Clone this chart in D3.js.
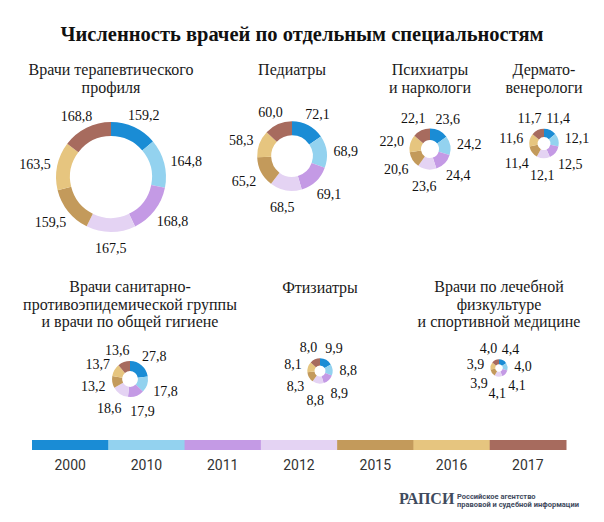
<!DOCTYPE html>
<html><head><meta charset="utf-8">
<script src="https://cdn.jsdelivr.net/npm/d3@7"></script>
<style>
html,body{margin:0;padding:0;background:#fff;}
svg{display:block;}
</style></head>
<body>
<svg id="chart" width="604" height="522"></svg>
<script>
// ---------- data ----------
const years = ["2000","2010","2011","2012","2015","2016","2017"];
const titleText = "Численность врачей по отдельным специальностям";
const specialtyNames = [
  ["Врачи терапевтического","профиля"],
  ["Педиатры"],
  ["Психиатры","и наркологи"],
  ["Дермато-","венерологи"],
  ["Врачи санитарно-","противоэпидемической группы","и врачи по общей гигиене"],
  ["Фтизиатры"],
  ["Врачи по лечебной","физкультуре","и спортивной медицине"]
];
const therapists     = [159.2,164.8,168.8,167.5,159.5,163.5,168.8];
const pediatricians  = [72.1,68.9,69.1,68.5,65.2,58.3,60.0];
const psychiatrists  = [23.6,24.2,24.4,23.6,20.6,22.0,22.1];
const dermatologists = [11.4,12.1,12.5,12.1,11.4,11.6,11.7];
const sanitary       = [27.8,17.8,17.9,18.6,13.2,13.7,13.6];
const phthisiatrists = [9.9,8.8,8.9,8.8,8.3,8.1,8.0];
const physiotherapy  = [4.4,4.0,4.1,4.1,3.9,3.9,4.0];
const seriesList = [therapists,pediatricians,psychiatrists,dermatologists,sanitary,phthisiatrists,physiotherapy];

// ---------- layout / style ----------
const colors = ["#1a8cd5","#93d2ef","#c49ae5","#e4d3f3","#c39a5b","#e6c57f","#a76b5e"];
const layout = [
  {cx:111, cy:177, ty:75},
  {cx:292, cy:156, ty:75},
  {cx:430, cy:149, ty:75},
  {cx:544, cy:143.5, ty:75},
  {cx:130, cy:379, ty:292},
  {cx:320, cy:371, ty:293},
  {cx:499, cy:368, ty:292}
];

const svg = d3.select("#chart");
const serif = "'Liberation Serif','DejaVu Serif',serif";
const sans = "Roboto,'Open Sans','Liberation Sans',sans-serif";

svg.append("text")
  .attr("x", 302).attr("y", 41)
  .attr("text-anchor","middle")
  .style("font-family", serif).style("font-weight","bold").style("font-size","20.5px")
  .style("fill","#111")
  .text(titleText);

const maxTotal = d3.sum(therapists);
const rScale = d3.scaleSqrt().domain([0, maxTotal]).range([0, 55]);
const fmt = v => d3.format(".1f")(v).replace(".", ",");

seriesList.forEach((vals, i) => {
  const L = layout[i];
  const g = svg.append("g").attr("transform", `translate(${L.cx},${L.cy})`);
  const R = rScale(d3.sum(vals));
  const inner = R - Math.min(14, 0.56*R);
  const arc = d3.arc().innerRadius(inner).outerRadius(R);
  const pieData = d3.pie().sort(null).startAngle(0).endAngle(2*Math.PI)
    .value(d=>d.v)(vals.map((v,k)=>({v,k})));
  g.selectAll("path").data(pieData).join("path")
    .attr("d", arc)
    .attr("fill", d => colors[d.data.k]);

  // labels
  const pad = 7;
  pieData.forEach(d => {
    const th = (d.startAngle + d.endAngle)/2;
    const t = g.append("text")
      .attr("text-anchor","middle")
      .attr("dominant-baseline","central")
      .style("font-family", serif).style("font-size","14px").style("fill","#111")
      .text(fmt(d.data.v));
    const bb = t.node().getBBox();
    const s = Math.sin(th), c = -Math.cos(th);
    const x = (R + pad)*s + (bb.width/2)*s;
    const y = (R + pad)*c + 8*c + 2;
    t.attr("x", x).attr("y", y);
  });

  // titles
  const tt = svg.append("text")
    .attr("text-anchor","middle")
    .style("font-family", serif).style("font-size","16px").style("fill","#1a1a1a");
  specialtyNames[i].forEach((line, j) => {
    tt.append("tspan").attr("x", L.cx).attr("y", L.ty + j*17.5).text(line);
  });
});

// legend
const lx = d3.scaleBand().domain(years).range([32, 566]).paddingInner(0).paddingOuter(0);
const lg = svg.append("g");
lg.selectAll("rect").data(years).join("rect")
  .attr("x", d => lx(d)).attr("y", 440)
  .attr("width", lx.bandwidth()+0.5).attr("height", 10)
  .attr("fill", (d,i) => colors[i]);
lg.selectAll("text").data(years).join("text")
  .attr("x", d => lx(d) + lx.bandwidth()/2).attr("y", 470)
  .attr("text-anchor","middle")
  .style("font-family", sans).style("font-size","14px").style("fill","#333")
  .text(d => d);

// logo
svg.append("text").attr("x", 399).attr("y", 504)
  .style("font-family", serif).style("font-weight","bold").style("font-size","16px")
  .style("fill","#3f4b5e").text("РАПСИ");
svg.append("text").attr("x", 457).attr("y", 499)
  .style("font-family", sans).style("font-weight","bold").style("font-size","7.5px")
  .style("fill","#3f4b5e").text("Российское агентство");
svg.append("text").attr("x", 457).attr("y", 507)
  .style("font-family", sans).style("font-weight","bold").style("font-size","7.5px")
  .style("fill","#3f4b5e").text("правовой и судебной информации");
</script>
</body></html>
